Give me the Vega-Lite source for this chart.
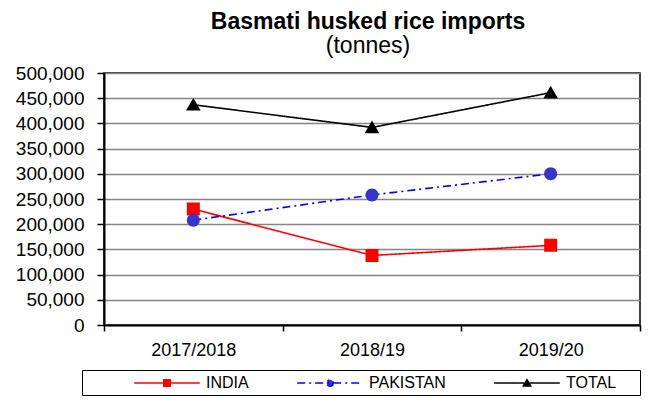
{
  "$schema": "https://vega.github.io/schema/vega-lite/v6.json",
  "width": 536,
  "height": 252,
  "autosize": {"type": "none"},
  "padding": {"left": 104, "top": 73, "right": 27, "bottom": 85},
  "background": "white",
  "title": {
    "text": "Basmati husked rice imports",
    "subtitle": "(tonnes)",
    "font": "Liberation Sans",
    "fontSize": 23,
    "fontWeight": "bold",
    "color": "black",
    "subtitleFont": "Liberation Sans",
    "subtitleFontSize": 23,
    "subtitleColor": "black",
    "subtitlePadding": 1,
    "anchor": "middle",
    "dx": -4,
    "offset": 6
  },
  "data": {
    "values": [
      {"year": "2017/2018", "series": "INDIA", "tonnes": 230000},
      {"year": "2018/19", "series": "INDIA", "tonnes": 138000},
      {"year": "2019/20", "series": "INDIA", "tonnes": 158000},
      {"year": "2017/2018", "series": "PAKISTAN", "tonnes": 208000},
      {"year": "2018/19", "series": "PAKISTAN", "tonnes": 258000},
      {"year": "2019/20", "series": "PAKISTAN", "tonnes": 300000},
      {"year": "2017/2018", "series": "TOTAL", "tonnes": 437000},
      {"year": "2018/19", "series": "TOTAL", "tonnes": 392000},
      {"year": "2019/20", "series": "TOTAL", "tonnes": 461000}
    ]
  },
  "encoding": {
    "x": {
      "field": "year",
      "type": "nominal",
      "sort": null,
      "scale": {"type": "band", "paddingInner": 0, "paddingOuter": 0},
      "axis": {
        "title": null,
        "labelAngle": 0,
        "tickBand": "extent",
        "tickSize": 6,
        "tickColor": "black",
        "tickWidth": 1.5,
        "domainColor": "black",
        "domainWidth": 2,
        "labelFont": "Liberation Sans",
        "labelFontSize": 18,
        "labelColor": "black",
        "labelPadding": 10
      }
    },
    "y": {
      "field": "tonnes",
      "type": "quantitative",
      "scale": {"domain": [0, 500000], "nice": false},
      "axis": {
        "title": null,
        "values": [0, 50000, 100000, 150000, 200000, 250000, 300000, 350000, 400000, 450000, 500000],
        "format": ",.0f",
        "grid": true,
        "gridColor": "#858585",
        "gridWidth": 1.5,
        "tickSize": 7,
        "tickColor": "black",
        "tickWidth": 1.5,
        "domainColor": "black",
        "domainWidth": 2,
        "labelFont": "Liberation Sans",
        "labelFontSize": 19,
        "labelColor": "black",
        "labelPadding": 13
      }
    }
  },
  "layer": [
    {
      "mark": {"type": "line", "strokeWidth": 1.6},
      "encoding": {
        "color": {
          "field": "series",
          "type": "nominal",
          "scale": {"domain": ["INDIA", "PAKISTAN", "TOTAL"], "range": ["#ff0000", "#0000ff", "#000000"]},
          "legend": {
            "title": "\u00a0",
            "titleOrient": "right",
            "titlePadding": 20,
            "titleFontSize": 10,
            "orient": "none",
            "legendX": -22,
            "legendY": 297,
            "direction": "horizontal",
            "strokeColor": "black",
            "padding": 4,
            "symbolSize": 256,
            "symbolStrokeWidth": 1.5,
            "symbolOffset": 72,
            "labelOffset": 30,
            "columnPadding": 0,
            "labelFont": "Liberation Sans",
            "labelFontSize": 16,
            "labelColor": "black",
            "encode": {
              "symbols": {
                "update": {
                  "fill": {"scale": "color", "field": "value"},
                  "stroke": {"scale": "color", "field": "value"},
                  "strokeWidth": {"value": 1.5},
                  "opacity": {"value": 1}
                }
              }
            }
          }
        },
        "strokeDash": {
          "field": "series",
          "type": "nominal",
          "scale": {"domain": ["INDIA", "PAKISTAN", "TOTAL"], "range": [[1, 0], [8, 4, 2, 4], [1, 0]]}
        }
      }
    },
    {
      "mark": {"type": "point", "filled": true, "size": 1056, "strokeWidth": 0, "opacity": 1},
      "encoding": {
        "shape": {
          "field": "series",
          "type": "nominal",
          "scale": {
            "domain": ["INDIA", "PAKISTAN", "TOTAL"],
            "range": [
              "M-4.1,0H4.1M-0.4,-0.4H0.4V0.4H-0.4Z",
              "M-4.1,0H4.1M0.4,0A0.4,0.4 0 1,1 -0.4,0A0.4,0.4 0 1,1 0.4,0Z",
              "M-4.1,0H4.1M0,-0.42L0.45,0.36H-0.45Z"
            ]
          }
        },
        "fill": {
          "field": "series",
          "type": "nominal",
          "scale": {"domain": ["INDIA", "PAKISTAN", "TOTAL"], "range": ["#ff0000", "#3535c8", "#000000"]},
          "legend": null
        }
      }
    }
  ],
  "config": {
    "view": {"stroke": "black", "strokeWidth": 1.5}
  }
}
